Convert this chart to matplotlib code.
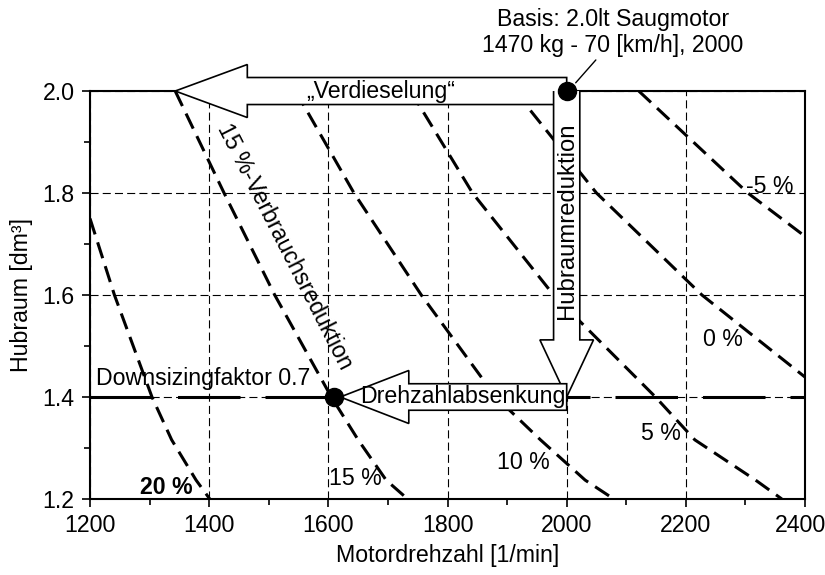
import matplotlib
matplotlib.use("Agg")
import matplotlib.pyplot as plt
from matplotlib.patches import Polygon
from matplotlib.ticker import MultipleLocator
from matplotlib.transforms import ScaledTranslation

plt.rcParams['font.family'] = ['Liberation Sans', 'DejaVu Sans']
plt.rcParams['lines.scale_dashes'] = False

FS = 16.7

# ---------------- data ----------------
x_ticks = [1200, 1400, 1600, 1800, 2000, 2200, 2400]
y_ticks = [1.2, 1.4, 1.6, 1.8, 2.0]
y_tick_labels = ['1.2', '1.4', '1.6', '1.8', '2.0']

# iso-consumption curves (speed at given displacement)
c20_y = [1.75, 1.6, 1.4, 1.316, 1.237, 1.2]
c20_x = [1200, 1241, 1304, 1337, 1378, 1401]
c15_y = [2.0, 1.8, 1.6, 1.4, 1.316, 1.237, 1.2]
c15_x = [1343, 1425, 1510, 1605, 1650, 1697, 1733]
c10_y = [2.0, 1.8, 1.6, 1.4, 1.316, 1.237, 1.2]
c10_x = [1545, 1643, 1756, 1881, 1956, 2031, 2079]
c5_y = [2.0, 1.8, 1.6, 1.4, 1.316, 1.237, 1.2]
c5_x = [1738, 1842, 1978, 2149, 2215, 2317, 2361]
c0_y = [2.0, 1.8, 1.6, 1.439]
c0_x = [1913, 2050, 2227, 2400]
cm5_y = [2.0, 1.8, 1.715]
cm5_x = [2121, 2304, 2400]

curve_labels = ['20 %', '15 %', '10 %', '5 %', '0 %', '-5 %']
label_x = [1328, 1645, 1928, 2159, 2263, 2340]
label_y = [1.222, 1.241, 1.2725, 1.329, 1.512, 1.813]
label_bold = [True, False, False, False, False, False]

base_speed = 2000
base_displacement = 2.0
downsizing_factor = 0.7
down_speed = 1610
down_displacement = base_displacement * downsizing_factor

# ---------------- figure ----------------
fig = plt.figure(figsize=(8.25, 5.75), dpi=100)
ax = fig.add_axes([0.1091, 0.1322, 0.8667, 0.7095])
ax.set_xlim(1200, 2400)
ax.set_ylim(1.2, 2.0)

ax.set_xticks(x_ticks)
ax.set_yticks(y_ticks)
ax.set_yticklabels(y_tick_labels)
ax.xaxis.set_minor_locator(MultipleLocator(100))
ax.yaxis.set_minor_locator(MultipleLocator(0.1))
ax.tick_params(which='major', direction='out', length=6, width=1.2,
               labelsize=FS, colors='black', pad=5)
ax.tick_params(which='minor', direction='out', length=4, width=1.2)
for sp in ax.spines.values():
    sp.set_linewidth(1.5)
    sp.set_color('black')

# keep the last x tick label inside the canvas
fig.canvas.draw()
last = ax.get_xticklabels()[-1]
last.set_transform(last.get_transform() +
                   ScaledTranslation(-5 / 100, 0, fig.dpi_scale_trans))

ax.grid(True, which='major', color='black', lw=0.8,
        linestyle=(0, (5.8, 3.0)), zorder=1)
ax.set_axisbelow(True)

ax.set_xlabel('Motordrehzahl [1/min]', fontsize=FS, labelpad=5)
ax.set_ylabel('Hubraum [dm³]', fontsize=FS, labelpad=7)

curve_style = dict(color='black', lw=2.2, linestyle=(0, (12.0, 6.0)),
                   zorder=3, solid_capstyle='butt', dash_capstyle='butt')
for xs, ys in [(c20_x, c20_y), (c15_x, c15_y), (c10_x, c10_y),
               (c5_x, c5_y), (c0_x, c0_y), (cm5_x, cm5_y)]:
    ax.plot(xs, ys, **curve_style)

for t, lx, ly, b in zip(curve_labels, label_x, label_y, label_bold):
    ax.text(lx, ly, t, fontsize=FS, ha='center', va='center',
            fontweight='bold' if b else 'normal', zorder=4)

# downsizing line
ax.axhline(down_displacement, color='black', lw=2.2,
           linestyle=(0, (45, 18)), zorder=2.6, dash_capstyle='butt')
ax.text(1210, 1.437, 'Downsizingfaktor 0.7', fontsize=FS,
        ha='left', va='center', zorder=4)


def harrow(x_tail, x_base, x_tip, yc, hb, hh):
    return [(x_tail, yc + hb), (x_base, yc + hb), (x_base, yc + hh),
            (x_tip, yc), (x_base, yc - hh), (x_base, yc - hb),
            (x_tail, yc - hb)]


# "Verdieselung" arrow
p1 = Polygon(harrow(base_speed, 1464, 1343, base_displacement, 0.0265, 0.052),
             closed=True, fc='white', ec='black', lw=1.2, zorder=5, clip_on=False)
ax.add_patch(p1)
ax.text(1687, 1.999, '„Verdieselung“', fontsize=FS, ha='center',
        va='center', zorder=8)

# vertical arrow "Hubraumreduktion"
hb_v, hh_v = 22, 45
vpts = [(base_speed - hb_v, base_displacement), (base_speed - hb_v, 1.512),
        (base_speed - hh_v, 1.512), (base_speed, down_displacement),
        (base_speed + hh_v, 1.512), (base_speed + hb_v, 1.512),
        (base_speed + hb_v, base_displacement)]
p2 = Polygon(vpts, closed=False, fc='white', ec='black', lw=1.2, zorder=6,
             clip_on=False)
ax.add_patch(p2)
ax.text(base_speed, 1.745, 'Hubraumreduktion', fontsize=FS + 0.5, rotation=90,
        ha='center', va='center', zorder=8)

# "Drehzahlabsenkung" arrow
p3 = Polygon(harrow(base_speed, 1735, 1620, down_displacement, 0.026, 0.052),
             closed=True, fc='white', ec='black', lw=1.2, zorder=6.5, clip_on=False)
ax.add_patch(p3)
ax.text(1826, 1.4, 'Drehzahlabsenkung', fontsize=FS, ha='center',
        va='center', zorder=8)

# rotated label along the 15 % curve
ax.text(1527, 1.696, '15 %-Verbrauchsreduktion', fontsize=FS,
        rotation=-63, ha='center', va='center', zorder=4,
        rotation_mode='anchor')

# points
ax.plot([base_speed, down_speed], [base_displacement, down_displacement],
        'o', color='black', ms=13, zorder=9, clip_on=False)

# basis annotation
ax.annotate('', xy=(2012, 2.012), xytext=(2052, 2.065),
            arrowprops=dict(arrowstyle='-', color='black', lw=1.0),
            annotation_clip=False, zorder=9)
ax.text(2077, 2.141, 'Basis: 2.0lt Saugmotor', fontsize=FS,
        ha='center', va='center', clip_on=False)
ax.text(2077, 2.090, '1470 kg - 70 [km/h], 2000', fontsize=FS,
        ha='center', va='center', clip_on=False)

fig.savefig('out.png', dpi=100)
